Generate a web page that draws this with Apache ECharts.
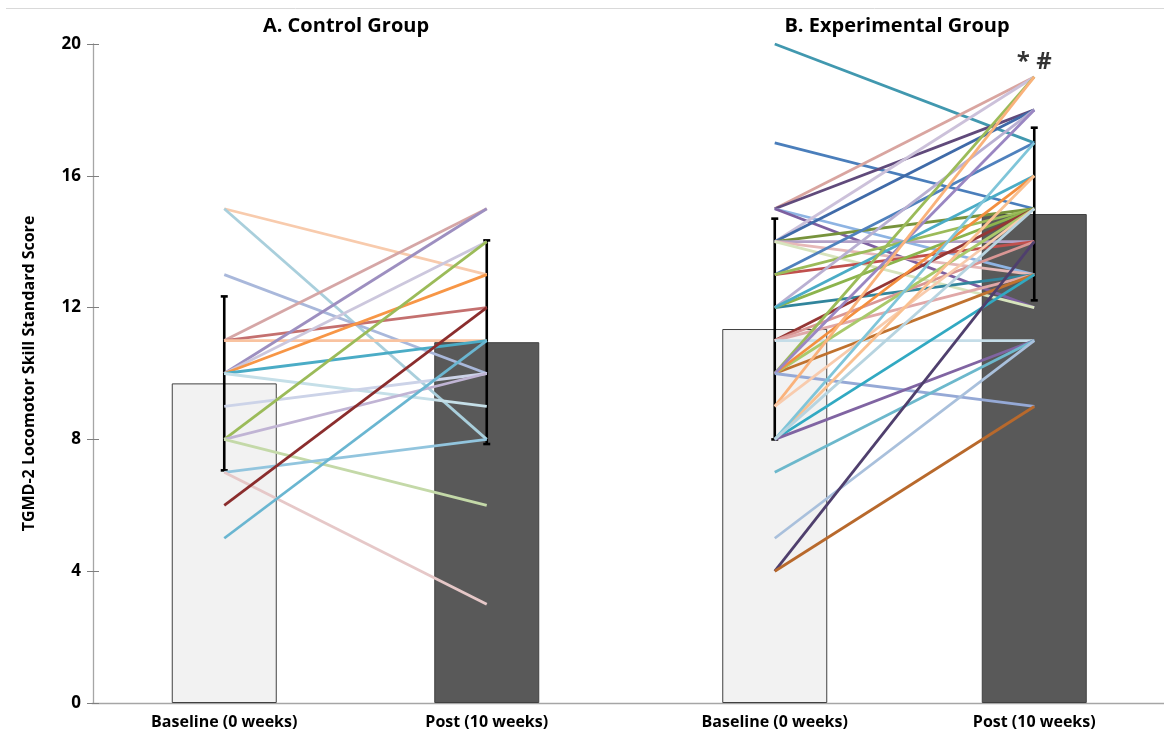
<!DOCTYPE html>
<html>
<head>
<meta charset="utf-8">
<script src="https://cdn.jsdelivr.net/npm/echarts@6/dist/echarts.min.js"></script>
<style>html,body{margin:0;padding:0;background:#fff;}#c{width:1164px;height:742px;}</style>
</head>
<body>
<div id="c"></div>
<script>
// ---- data ----
var categories = ['Baseline (0 weeks)', 'Post (10 weeks)'];
var yTicks = [0, 4, 8, 12, 16, 20];
var groupTitles = ['A. Control Group', 'B. Experimental Group'];

var ctrlMeans = [9.7, 10.95];
var ctrlSD = [2.64, 3.09];
var expMeans = [11.35, 14.84];
var expSD = [3.35, 2.62];

var ctrlBase = [15,15,13,11,11,11,10,10,10,10,10,9,8,8,8,7,7,6,5];
var ctrlPost = [13,8,10,15,12,11,15,14,13,11,9,10,14,10,6,8,3,12,11];

var expBase = [20,17,15,15,15,15,14,14,14,14,14,14,13,13,13,12,12,12,12,11,11,11,11,10,10,10,10,10,10,9,9,8,8,8,8,8,7,5,4,4];
var expPost = [17,15,19,18,13,12,19,18,15,14,13,12,17,14,15,18,13,15,16,15,14,13,11,19,13,15,16,18,9,19,15,16,13,17,11,15,11,11,14,9];

// ---- styles ----
var ctrlColors = ['#f8cbad','#a9cfdc','#a9b8db','#d5a6a6','#c4706f','#f9c3a0','#9d8fc0','#ccc7dd','#f79646','#4bacc6','#c5dfe8','#ccd3e8','#9bbb59','#c0b4d4','#c4d9a8','#92c5de','#e6c8c8','#8b2d2d','#6ab6d1'];
var expColors = ['#4198af','#4a7ebb','#d9a5a0','#604a7b','#8eb4e3','#7d60a0','#ccc1da','#3f6aa8','#77933c','#b3a2c7','#e6b9b8','#d7e4bd','#4f81bd','#c0504d','#9bbb59','#b9b0d2','#31859c','#8cb44d','#4bacc6','#953735','#d99694','#e0a8a8','#c5dde8','#9bbb59','#c0722f','#a9c96b','#f38f3f','#9a86c2','#95a9d6','#fab27b','#f8cbad','#fac090','#31a9c2','#7fc5d9','#8064a2','#b7d4e0','#6cb8cc','#a9c0dc','#4f3f6d','#b8692c'];

var FONT = '"Open Sans"';
var chart = echarts.init(document.getElementById('c'));

function errData(means, sds) {
  return means.map(function (m, i) { return [i, m - sds[i], m + sds[i]]; });
}
function errSeries(xi, yi, means, sds) {
  return {
    type: 'custom', xAxisIndex: xi, yAxisIndex: yi, z: 3,
    encode: { x: 0, y: [1, 2] },
    data: errData(means, sds),
    renderItem: function (params, api) {
      var x = api.value(0);
      var lo = api.coord([x, api.value(1)]);
      var hi = api.coord([x, api.value(2)]);
      var st = { stroke: '#000', lineWidth: 2.6 };
      return { type: 'group', children: [
        { type: 'line', shape: { x1: lo[0], y1: lo[1], x2: hi[0], y2: hi[1] }, style: st },
        { type: 'line', shape: { x1: lo[0] - 3.5, y1: lo[1], x2: lo[0] + 3.5, y2: lo[1] }, style: st },
        { type: 'line', shape: { x1: hi[0] - 3.5, y1: hi[1], x2: hi[0] + 3.5, y2: hi[1] }, style: st }
      ]};
    }
  };
}
function barSeries(xi, yi, means) {
  return {
    type: 'bar', xAxisIndex: xi, yAxisIndex: yi, barWidth: 105, z: 2,
    data: means.map(function (m, i) {
      return { value: m, itemStyle: { color: i === 0 ? '#f2f2f2' : '#595959', borderColor: '#404040', borderWidth: 1 } };
    }),
    silent: true
  };
}
function lineSeries(xi, yi, base, post, colors) {
  return base.map(function (b, i) {
    return {
      type: 'line', xAxisIndex: xi, yAxisIndex: yi, z: 4,
      data: [b, post[i]], symbol: 'none',
      lineStyle: { color: colors[i % colors.length], width: 2.8 },
      silent: true, animation: false
    };
  });
}

var series = [];
series.push(barSeries(0, 0, ctrlMeans));
series.push(barSeries(1, 1, expMeans));
series.push(errSeries(0, 0, ctrlMeans, ctrlSD));
series.push(errSeries(1, 1, expMeans, expSD));
series = series.concat(lineSeries(0, 0, ctrlBase, ctrlPost, ctrlColors));
series = series.concat(lineSeries(1, 1, expBase, expPost, expColors));
series.push({
  type: 'scatter', xAxisIndex: 1, yAxisIndex: 1, z: 5, symbolSize: 1,
  itemStyle: { color: 'rgba(0,0,0,0)' },
  data: [[1, 19]],
  label: { show: true, position: 'top', distance: 2, formatter: '* #', fontFamily: FONT, fontWeight: 'bold', fontSize: 24, color: '#000' }
});

var xLabelStyle = { fontFamily: FONT, fontWeight: 'bold', fontSize: 16, color: '#000', margin: 11 };

chart.setOption({
  animation: false,
  backgroundColor: '#fff',
  title: [
    { text: groupTitles[0], left: 341, top: 11, textAlign: 'center', textStyle: { fontFamily: FONT, fontWeight: 'bold', fontSize: 20, color: '#000' } },
    { text: groupTitles[1], left: 892, top: 11, textAlign: 'center', textStyle: { fontFamily: FONT, fontWeight: 'bold', fontSize: 20, color: '#000' } }
  ],
  graphic: [
    { type: 'line', shape: { x1: 6, y1: 8.5, x2: 1164, y2: 8.5 }, style: { stroke: '#d9d9d9', lineWidth: 1 }, silent: true }
  ],
  grid: [
    { left: 93, width: 525, top: 44, bottom: 39 },
    { left: 645, right: 0, top: 44, bottom: 39 },
    { left: 92, right: 0, top: 44, bottom: 39 }
  ],
  xAxis: [
    { type: 'category', gridIndex: 0, data: categories, boundaryGap: true,
      axisLine: { show: false }, axisTick: { show: false }, axisLabel: xLabelStyle },
    { type: 'category', gridIndex: 1, data: categories, boundaryGap: true,
      axisLine: { show: false }, axisTick: { show: false }, axisLabel: xLabelStyle },
    { type: 'value', gridIndex: 2, min: 0, max: 1,
      axisLine: { show: true, lineStyle: { color: '#a6a6a6', width: 1.3 } },
      axisTick: { show: false }, axisLabel: { show: false }, splitLine: { show: false } }
  ],
  yAxis: [
    { type: 'value', gridIndex: 0, min: yTicks[0], max: yTicks[yTicks.length - 1], interval: yTicks[1] - yTicks[0],
      name: 'TGMD-2 Locomotor Skill Standard Score', nameLocation: 'middle', nameGap: 56, nameRotate: 90,
      nameTextStyle: { fontFamily: FONT, fontWeight: 'bold', fontSize: 16, color: '#000' },
      axisLine: { show: true, lineStyle: { color: '#a6a6a6', width: 1.3 } },
      axisTick: { show: true, length: 6, lineStyle: { color: '#7f7f7f' } },
      axisLabel: { fontFamily: FONT, fontWeight: 'bold', fontSize: 17, color: '#000', margin: 12 },
      splitLine: { show: false } },
    { type: 'value', gridIndex: 1, min: 0, max: 20, interval: 4, show: false },
    { type: 'value', gridIndex: 0, min: 0, max: 20, interval: 4, position: 'left',
      axisLine: { show: false }, axisTick: { show: true, inside: true, length: 6, lineStyle: { color: '#7f7f7f' } },
      axisLabel: { show: false }, splitLine: { show: false } },
    { type: 'value', gridIndex: 2, min: 0, max: 20, show: false }
  ],
  series: series
});
</script>
</body>
</html>
